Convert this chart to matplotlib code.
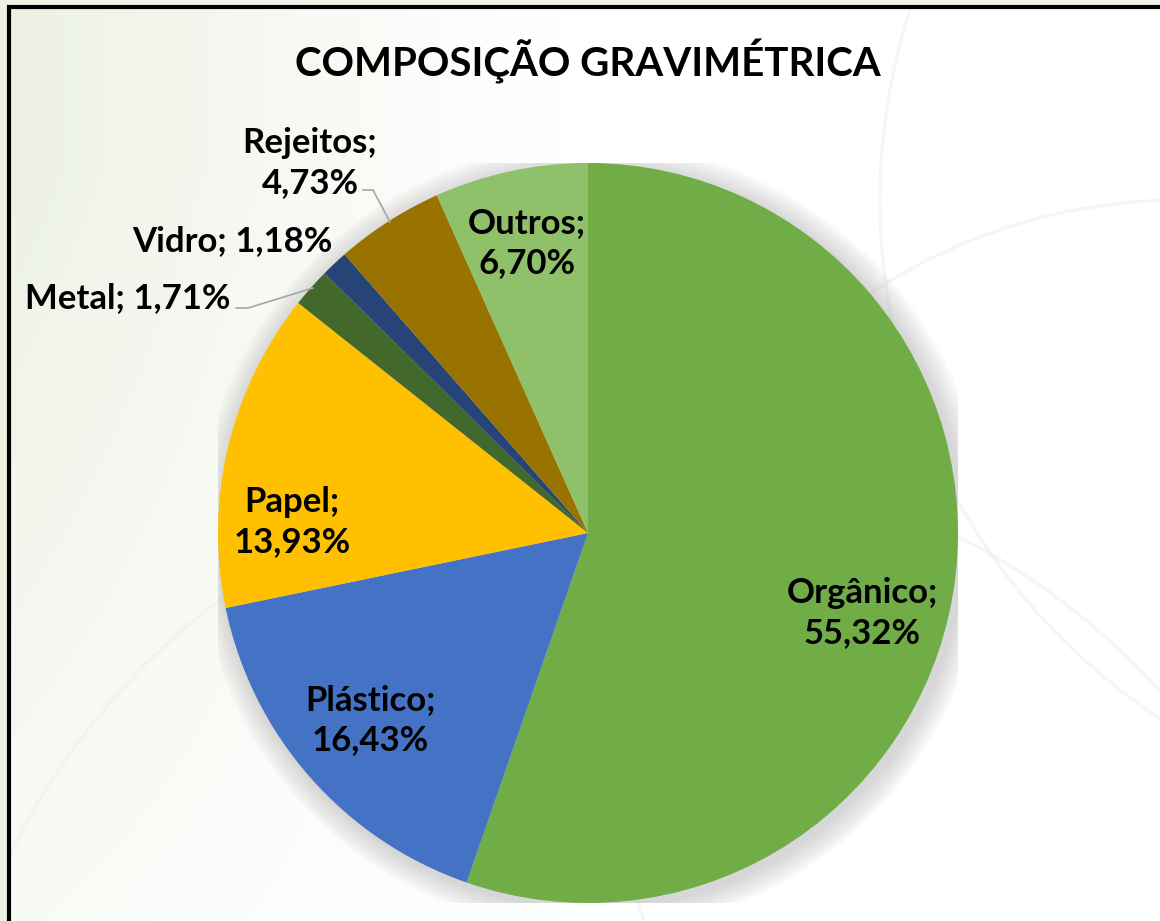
import matplotlib.pyplot as plt
import numpy as np
from matplotlib.patches import Circle, Rectangle

plt.rcParams["font.family"] = ["Lato", "DejaVu Sans"]

categorias = ["Orgânico", "Plástico", "Papel", "Metal", "Vidro", "Rejeitos", "Outros"]
percentuais = [55.32, 16.43, 13.93, 1.71, 1.18, 4.73, 6.70]
cores = ["#70AD47", "#4472C4", "#FFC000", "#43682B", "#264478", "#997300", "#8FC06A"]
titulo = "COMPOSIÇÃO GRAVIMÉTRICA"

W, H = 1160, 921
CX, CY, R = 588, 533, 370  # centro e raio da pizza em pixels


def px(x, y):
    """pixel (origem no topo) -> coordenadas de dados da pizza"""
    return (x - CX) / R, (CY - y) / R


def rotulo(nome, valor, quebra=True):
    sep = "\n" if quebra else " "
    return f"{nome};{sep}{valor:.2f}%".replace(".", ",")


fig = plt.figure(figsize=(W / 100, H / 100), dpi=100)

# fundo: tom esverdeado à esquerda clareando para branco
bg = fig.add_axes([0, 0, 1, 1])
yy, xx = np.mgrid[0:H, 0:W]
w = np.clip(1 - xx / 560, 0, 1) ** 1.2 * np.clip(1.15 - yy / 1100, 0, 1)
tint = np.array([0.925, 0.945, 0.890])
img = 1 - w[..., None] * (1 - tint)
bg.imshow(img, extent=[0, W, H, 0], aspect="auto")
bg.set_xlim(0, W)
bg.set_ylim(H, 0)
# arcos claros decorativos
for (ax0, ay0, rr) in [(1180, 760, 560), (640, 1160, 700), (1500, 200, 620)]:
    bg.add_patch(Circle((ax0, ay0), rr, fill=False, ec="#eceee8", lw=2.5, alpha=0.45))
# moldura preta
bg.add_patch(Rectangle((0, 0), 8, H, color="#eef2e4", zorder=4))
bg.add_patch(Rectangle((0, 0), W, 6, color="#eef2e4", zorder=4))
bg.plot([9, 9, W + 5], [H + 5, 7.5, 7.5], color="black", lw=3, zorder=5,
        solid_joinstyle="miter")
bg.axis("off")

ax = fig.add_axes([(CX - R) / W, (H - CY - R) / H, 2 * R / W, 2 * R / H])

# sombra suave
for k in range(12):
    ax.add_patch(Circle((0.012, -0.012), 1.0 + 0.0055 * (k + 1), color="#707070",
                        alpha=0.022, lw=0, zorder=0))

wedges, _ = ax.pie(
    percentuais,
    colors=cores,
    startangle=90,
    counterclock=False,
    radius=1.0,
    wedgeprops=dict(linewidth=0),
)
for wd in wedges:
    wd.set_zorder(2)

fs = 25
ls = 1.3
posicoes_internas = {
    "Orgânico": (862, 613),
    "Plástico": (370, 720),
    "Papel": (292, 522),
    "Outros": (527, 243),
}
for nome, valor in zip(categorias, percentuais):
    if nome in posicoes_internas:
        x, y = px(*posicoes_internas[nome])
        ax.text(x, y, rotulo(nome, valor), ha="center", va="center", fontsize=fs,
                fontweight="bold", linespacing=ls, zorder=5)

i_rej = categorias.index("Rejeitos")
x, y = px(310, 163)
ax.text(x, y, rotulo(categorias[i_rej], percentuais[i_rej]), ha="center", va="center",
        fontsize=fs, fontweight="bold", linespacing=ls, zorder=5)
i_vid = categorias.index("Vidro")
x, y = px(232, 241)
ax.text(x, y, rotulo(categorias[i_vid], percentuais[i_vid], False), ha="center",
        va="center", fontsize=fs, fontweight="bold", zorder=5)
i_met = categorias.index("Metal")
x, y = px(128, 298)
ax.text(x, y, rotulo(categorias[i_met], percentuais[i_met], False), ha="center",
        va="center", fontsize=fs, fontweight="bold", zorder=5)

# linhas de chamada
for pts in ([(363, 190), (373, 190), (390, 222)], [(236, 308), (248, 308), (313, 288)]):
    xs, ys = zip(*[px(*p) for p in pts])
    ax.plot(xs, ys, color="#a6a6a6", lw=1.2, zorder=4)

ax.set_xlim(-1, 1)
ax.set_ylim(-1, 1)
ax.set_aspect("equal")
ax.axis("off")

fig.text(588 / W, 1 - 62 / H, titulo, ha="center", va="center", fontsize=29,
         fontweight="bold")

fig.savefig("out.png", dpi=100)
